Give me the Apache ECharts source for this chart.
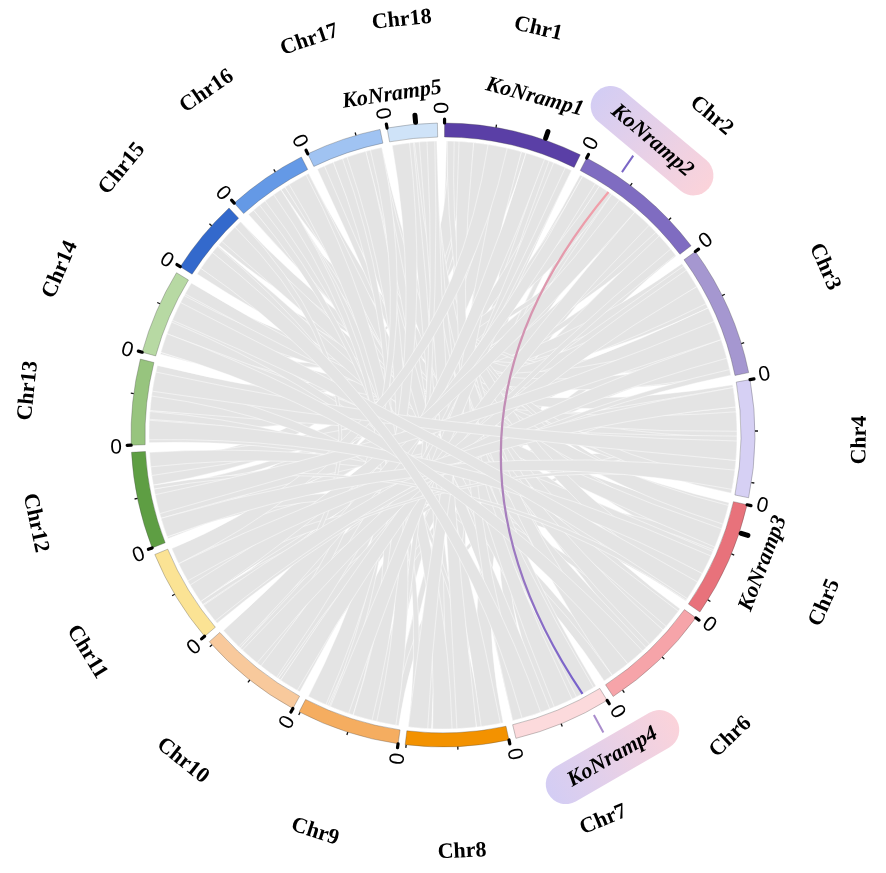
<!DOCTYPE html>
<html><head><meta charset="utf-8">
<script src="https://cdn.jsdelivr.net/npm/echarts@6/dist/echarts.min.js"></script>
<style>html,body{margin:0;padding:0;background:#fff}#c{width:886px;height:873px}</style>
</head><body><div id="c"></div>
<script>
// ---------------- data ----------------
const chromosomes = ['Chr1','Chr2','Chr3','Chr4','Chr5','Chr6','Chr7','Chr8','Chr9','Chr10','Chr11','Chr12','Chr13','Chr14','Chr15','Chr16','Chr17','Chr18'];
const chromLengthsMb = [13.6,13.3,12.9,11.5,11.4,11.1,9.6,10.1,10.1,10.4,9.3,9.5,8.4,8.4,7.4,7.9,7.4,4.9];
const tickStepMb = 5;
const startTickLabel = '0';
const genes = ['KoNramp1','KoNramp2','KoNramp3','KoNramp4','KoNramp5'];
const geneChrom = ['Chr1','Chr2','Chr5','Chr7','Chr18'];
const genePosMb = [9.9,3.6,2.8,1.8,2.8];
const genePairs = [['KoNramp2','KoNramp4']];
// syntenic blocks: [chrA, startA, endA, chrB, startB, endB] (Mb)
const syntenyLinks = [
 [1,0.2,1.8,9,8.2,9.9],[1,1.8,3.4,8,7.6,9.2],[1,3.4,5.2,10,1.0,2.8],[1,5.2,6.9,8,3.0,4.6],
 [1,6.9,8.5,12,2.0,3.5],[1,8.5,10.4,7,4.0,6.0],[1,10.4,12.0,9,2.0,3.6],[1,12.0,13.5,11,6.0,7.5],
 [1,0.6,1.4,14,2.9,3.8],[1,4.0,4.8,13,2.8,3.6],[1,9.0,9.8,10,4.0,4.8],[1,2.5,3.2,11,4.7,5.5],
 [1,0.5,2.5,12,6.5,8.5],[1,3.0,5.0,9,4.0,6.0],[1,6.0,8.0,10,7.0,9.0],[1,11.0,13.0,8,5.0,7.0],
 [2,0.2,2.0,11,1.0,2.6],[2,2.0,3.4,7,6.4,7.8],[2,3.8,5.5,10,6.0,7.8],[2,5.5,7.2,12,6.0,7.6],
 [2,7.2,9.0,9,5.0,6.8],[2,9.0,10.8,13,1.0,2.6],[2,10.8,13.2,8,0.2,2.4],[2,1.2,1.9,9,0.3,1.2],
 [2,6.0,6.8,14,2.0,2.8],[2,11.5,12.3,12,4.8,5.6],
 [2,0.5,2.5,12,0.5,2.5],[2,4.0,6.0,9,7.5,9.5],[2,8.0,10.0,11,7.0,9.0],[2,10.5,12.5,10,0.5,2.5],[2,2.5,4.0,13,5.5,7.5],
 [3,0.2,2.0,13,4.0,5.8],[3,2.0,3.8,12,0.3,2.0],[3,3.8,5.5,14,0.3,2.0],[3,5.5,7.3,11,3.0,4.6],
 [3,7.3,9.3,15,4.0,5.8],[3,9.3,11.0,10,8.6,10.3],[3,11.0,12.8,16,2.0,3.6],[3,6.2,7.0,9,6.8,7.8],
 [3,1.0,1.8,10,3.0,3.9],[3,10.0,10.7,17,1.5,2.3],
 [3,0.5,2.5,11,0.2,2.0],[3,3.0,5.0,13,1.5,3.5],[3,5.5,7.5,12,7.0,9.0],[3,8.0,10.0,14,6.0,8.0],[3,10.5,12.5,15,0.5,2.5],
 [4,0.2,2.0,14,5.0,6.8],[4,2.0,3.8,13,6.2,8.2],[4,3.8,5.6,12,3.8,5.6],[4,5.6,7.5,15,0.3,2.2],
 [4,7.5,9.3,11,7.6,9.2],[4,9.3,11.3,16,4.5,6.4],[4,1.0,1.6,10,5.0,5.8],[4,6.5,7.2,9,0.2,1.0],
 [4,0.5,2.5,12,2.5,4.5],[4,3.0,5.0,14,2.0,4.0],[4,5.5,7.5,13,3.5,5.5],[4,8.0,10.0,15,5.0,7.0],[4,10.0,11.4,17,4.0,5.5],
 [5,0.2,2.0,15,6.0,7.3],[5,2.0,4.0,14,7.0,8.3],[5,4.0,6.0,17,1.0,3.0],[5,6.0,7.8,12,7.9,9.4],
 [5,7.8,9.6,16,0.3,1.9],[5,9.6,11.2,13,0.2,1.0],[5,4.5,5.3,11,4.6,5.8],[5,1.0,1.8,18,0.3,1.0],
 [5,0.5,2.5,16,5.0,7.0],[5,3.0,5.0,15,1.0,3.0],[5,5.5,7.5,14,0.5,2.5],[5,8.0,10.0,18,1.5,3.5],[5,10.0,11.3,12,0.5,1.8],
 [6,0.2,2.0,17,3.2,5.0],[6,2.0,4.0,16,6.5,7.8],[6,4.0,5.8,18,0.2,2.0],[6,5.8,7.6,15,2.4,3.9],
 [6,7.6,9.4,17,5.2,7.2],[6,9.4,11.0,14,3.8,4.9],[6,3.0,3.8,13,2.6,3.4],[6,8.0,8.8,1,0.3,1.0],
 [6,0.5,2.5,15,4.5,6.5],[6,3.0,5.0,17,0.5,2.5],[6,5.5,7.5,16,1.0,3.0],[6,8.0,10.0,18,2.5,4.5],[6,10.0,11.0,13,5.0,6.5],
 [7,0.2,1.5,18,2.2,3.5],[7,7.8,9.5,18,3.5,4.8],[7,6.0,7.8,17,0.2,1.0],[7,1.5,2.0,16,3.6,4.4],
 [7,2.2,3.9,16,5.0,6.2],
 [7,0.5,2.5,17,5.0,7.0],[7,3.0,5.0,18,0.5,2.5],[7,5.5,7.5,16,6.0,7.8],[7,8.0,9.5,1,1.5,3.0],
 [8,4.6,6.0,17,5.5,6.8],[8,6.0,7.5,18,1.2,2.4],[8,9.2,10.0,16,1.0,1.8],[8,2.4,3.0,15,3.0,3.8],
 [8,0.5,2.5,17,2.0,4.0],[8,3.0,5.0,18,3.0,4.8],[8,5.5,7.5,16,2.5,4.5],[8,8.0,10.0,1,6.0,8.0],
 [9,1.2,2.0,18,3.8,4.6],[9,3.6,5.0,16,3.6,4.5],[9,6.8,7.6,17,2.0,3.0],
 [9,0.5,2.5,16,5.5,7.5],[9,3.0,5.0,17,3.5,5.5],[9,5.5,7.5,1,11.5,13.5],[9,8.0,10.0,18,0.2,2.0],
 [10,0.2,1.0,1,12.8,13.5],[10,2.8,4.0,2,12.3,13.1],[10,4.8,6.0,17,6.0,7.2],[10,7.8,8.6,15,6.5,7.3],
 [10,0.5,2.5,2,7.0,9.0],[10,3.0,5.0,1,8.5,10.5],[10,5.5,7.5,3,1.0,3.0],[10,8.0,10.3,2,0.5,2.0],
 [11,0.2,1.0,3,12.2,12.8],[11,2.6,3.0,4,10.0,10.6],
 [11,0.5,2.5,3,9.0,11.0],[11,3.0,5.0,2,5.0,7.0],[11,5.5,7.5,4,0.5,2.5],[11,7.5,9.2,1,4.5,6.5],
 [12,5.6,6.0,5,10.5,11.2],[12,0.5,2.5,4,9.0,11.0],[12,3.0,5.0,3,7.0,9.0],
 [13,0.5,2.5,5,6.0,8.0],[13,5.5,7.5,4,6.0,8.0],
 [14,0.5,2.5,6,6.0,8.0],[14,4.0,6.0,5,9.0,11.0],
 [15,1.0,3.0,7,6.5,8.5]
];

// ---------------- layout / style ----------------
const chromColors = ['#5a3fa6','#7f6cc1','#a597d0','#d6d0f4','#e8727b','#f6a4a9','#fcdadc','#f39200','#f5ad60','#f8c99c',
  '#fbe394','#5e9e43','#97c47e','#b7d9a3','#3369cc','#6499e6','#a0c3f2','#cfe3f8'];
const GAP = 0.69, START = 0.15;
const R_OUT = 312, R_IN = 298, R_LINK = 294;
const PAIR_BEND = 36; // px beyond centre for the highlighted pair curve
const geneLabelLayout = {
  KoNramp1:{dMb:-2.05, r:350, rot:15, pill:false},
  KoNramp2:{dMb:0.6, r:361, rot:40, pill:true},
  KoNramp3:{dMb:1.9, r:345, rot:-69, pill:false},
  KoNramp4:{dMb:0.3, r:364, rot:-30, pill:true},
  KoNramp5:{dMb:-1.85, r:344, rot:-8.5, pill:false}
};

const offsets = []; let acc = START;
chromLengthsMb.forEach(l => { offsets.push(acc); acc += l + GAP; });
const TOTAL = chromLengthsMb.reduce((a,b)=>a+b,0) + GAP*chromLengthsMb.length;

function pt(api, r, g){ const p = api.coord([r, g]); return [p[0], p[1]]; }
function compass(api, g){ const c = pt(api,0,0), p = pt(api,100,g); let t = Math.atan2(p[0]-c[0], -(p[1]-c[1]))*180/Math.PI; return (t+360)%360; }
function scrAng(api, g){ const c = pt(api,0,0), p = pt(api,100,g); return Math.atan2(p[1]-c[1], p[0]-c[0]); }
const rad = d => -d*Math.PI/180;
const txt = (text, font) => ({text, font, fill:'#000', align:'center', verticalAlign:'middle', textAlign:'center', textVerticalAlign:'middle'});
const SERIF = '"Liberation Serif","Times New Roman",serif';

function renderLink(params, api){
  const L = syntenyLinks[api.value(0)];
  const ca = L[0]-1, cb = L[3]-1;
  const a0 = offsets[ca]+L[1], a1 = offsets[ca]+L[2], b0 = offsets[cb]+L[4], b1 = offsets[cb]+L[5];
  const c = pt(api,0,0);
  const f = p => p[0].toFixed(2)+' '+p[1].toFixed(2);
  const n = 6;
  let d = 'M'+f(pt(api,R_LINK,a0));
  for (let j=1;j<=n;j++) d += 'L'+f(pt(api,R_LINK,a0+(a1-a0)*j/n));
  d += 'Q'+f(c)+' '+f(pt(api,R_LINK,b0));
  for (let j=1;j<=n;j++) d += 'L'+f(pt(api,R_LINK,b0+(b1-b0)*j/n));
  d += 'Q'+f(c)+' '+f(pt(api,R_LINK,a0))+'Z';
  return {type:'path', shape:{pathData:d}, style:{fill:'#e4e4e4', stroke:'#ffffff', lineWidth:0.5}};
}

function genePos(name){ const k = genes.indexOf(name); return offsets[chromosomes.indexOf(geneChrom[k])] + genePosMb[k]; }

function renderPair(params, api){
  const pr = genePairs[api.value(0)];
  const ga = genePos(pr[0]), gb = genePos(pr[1]);
  const A = pt(api,R_LINK,ga), B = pt(api,R_LINK,gb);
  const c = pt(api, PAIR_BEND, (ga+gb)/2 + TOTAL/2);
  const grad = new echarts.graphic.LinearGradient(0,0,0,1,[{offset:0,color:'#f4a0a8'},{offset:0.5,color:'#b98ab8'},{offset:1,color:'#7560cc'}]);
  const children = [{type:'bezierCurve', shape:{x1:A[0],y1:A[1],x2:B[0],y2:B[1],cpx1:c[0],cpy1:c[1]}, style:{stroke:grad, lineWidth:2.2, fill:null}}];
  pr.forEach((name, j) => {
    const g = j===0 ? ga : gb;
    const p1 = pt(api,318,g), p2 = pt(api,338,g);
    children.push({type:'line', shape:{x1:p1[0],y1:p1[1],x2:p2[0],y2:p2[1]}, style:{stroke: j===0?'#7a66c6':'#a98ccc', lineWidth:2}});
  });
  return {type:'group', children};
}

function renderChrom(params, api){
  const i = api.value(0);
  const s = offsets[i], e = s + chromLengthsMb[i];
  const c = pt(api,0,0);
  let a1 = scrAng(api,s), a2 = scrAng(api,e);
  if (a2 < a1) a2 += Math.PI*2;
  const ch = [{type:'sector', shape:{cx:c[0],cy:c[1],r0:R_IN,r:R_OUT,startAngle:a1,endAngle:a2,clockwise:true},
    style:{fill:chromColors[i], stroke:'rgba(70,70,70,0.45)', lineWidth:0.7}}];
  for (let m = tickStepMb; m < chromLengthsMb[i]; m += tickStepMb){
    const p1 = pt(api,R_OUT,s+m), p2 = pt(api,R_OUT+3,s+m);
    ch.push({type:'line', shape:{x1:p1[0],y1:p1[1],x2:p2[0],y2:p2[1]}, style:{stroke:'#111', lineWidth:1.3}});
  }
  const q1 = pt(api,R_OUT,s), q2 = pt(api,R_OUT+4,s);
  ch.push({type:'line', shape:{x1:q1[0],y1:q1[1],x2:q2[0],y2:q2[1]}, style:{stroke:'#000', lineWidth:3.2, lineCap:'round'}});
  const th = compass(api, s);
  const zr = th < 180 ? th-90 : th-270;
  const zp = pt(api,327,s-0.2);
  ch.push({type:'text', x:zp[0], y:zp[1], rotation:rad(zr), style:txt(startTickLabel,'21px "Liberation Sans",Arial,sans-serif')});
  const mid = s + chromLengthsMb[i]/2, tm = compass(api, mid);
  const lr = (tm < 90) ? tm : (tm >= 270 ? tm-360 : tm-180);
  const lp = pt(api,417,mid);
  ch.push({type:'text', x:lp[0], y:lp[1], rotation:rad(lr), style:txt(chromosomes[i],'bold 22px '+SERIF)});
  return {type:'group', children:ch};
}

function renderGene(params, api){
  const k = api.value(0), name = genes[k], lay = geneLabelLayout[name];
  const g = genePos(name);
  const ch = [];
  const lp = pt(api, lay.r, g + lay.dMb);
  if (lay.pill){
    ch.push({type:'rect', x:lp[0], y:lp[1], rotation:rad(lay.rot), shape:{x:-74,y:-20,width:148,height:40,r:20},
      style:{fill:new echarts.graphic.LinearGradient(0,0,1,0,[{offset:0,color:'#d3cdf4'},{offset:1,color:'#fbd3da'}])}});
  } else {
    const p1 = pt(api,R_OUT+2,g), p2 = pt(api,R_OUT+9,g);
    ch.push({type:'line', shape:{x1:p1[0],y1:p1[1],x2:p2[0],y2:p2[1]}, style:{stroke:'#000', lineWidth:5, lineCap:'round'}});
  }
  ch.push({type:'text', x:lp[0], y:lp[1], rotation:rad(lay.rot), style:txt(name,'italic bold 22px '+SERIF)});
  return {type:'group', children:ch};
}

const chart = echarts.init(document.getElementById('c'));
chart.setOption({
  animation:false,
  backgroundColor:'#fff',
  polar:{center:[443,435], radius:R_OUT},
  angleAxis:{type:'value', min:0, max:TOTAL, startAngle:90, clockwise:true, show:false},
  radiusAxis:{type:'value', min:0, max:R_OUT, show:false},
  series:[
    {type:'custom', coordinateSystem:'polar', data:syntenyLinks.map((_,i)=>[i]), renderItem:renderLink, silent:true, z:1},
    {type:'custom', coordinateSystem:'polar', data:genePairs.map((_,i)=>[i]), renderItem:renderPair, silent:true, z:2},
    {type:'custom', coordinateSystem:'polar', data:chromosomes.map((_,i)=>[i]), renderItem:renderChrom, silent:true, z:3},
    {type:'custom', coordinateSystem:'polar', data:genes.map((_,i)=>[i]), renderItem:renderGene, silent:true, z:4}
  ]
});
</script></body></html>
